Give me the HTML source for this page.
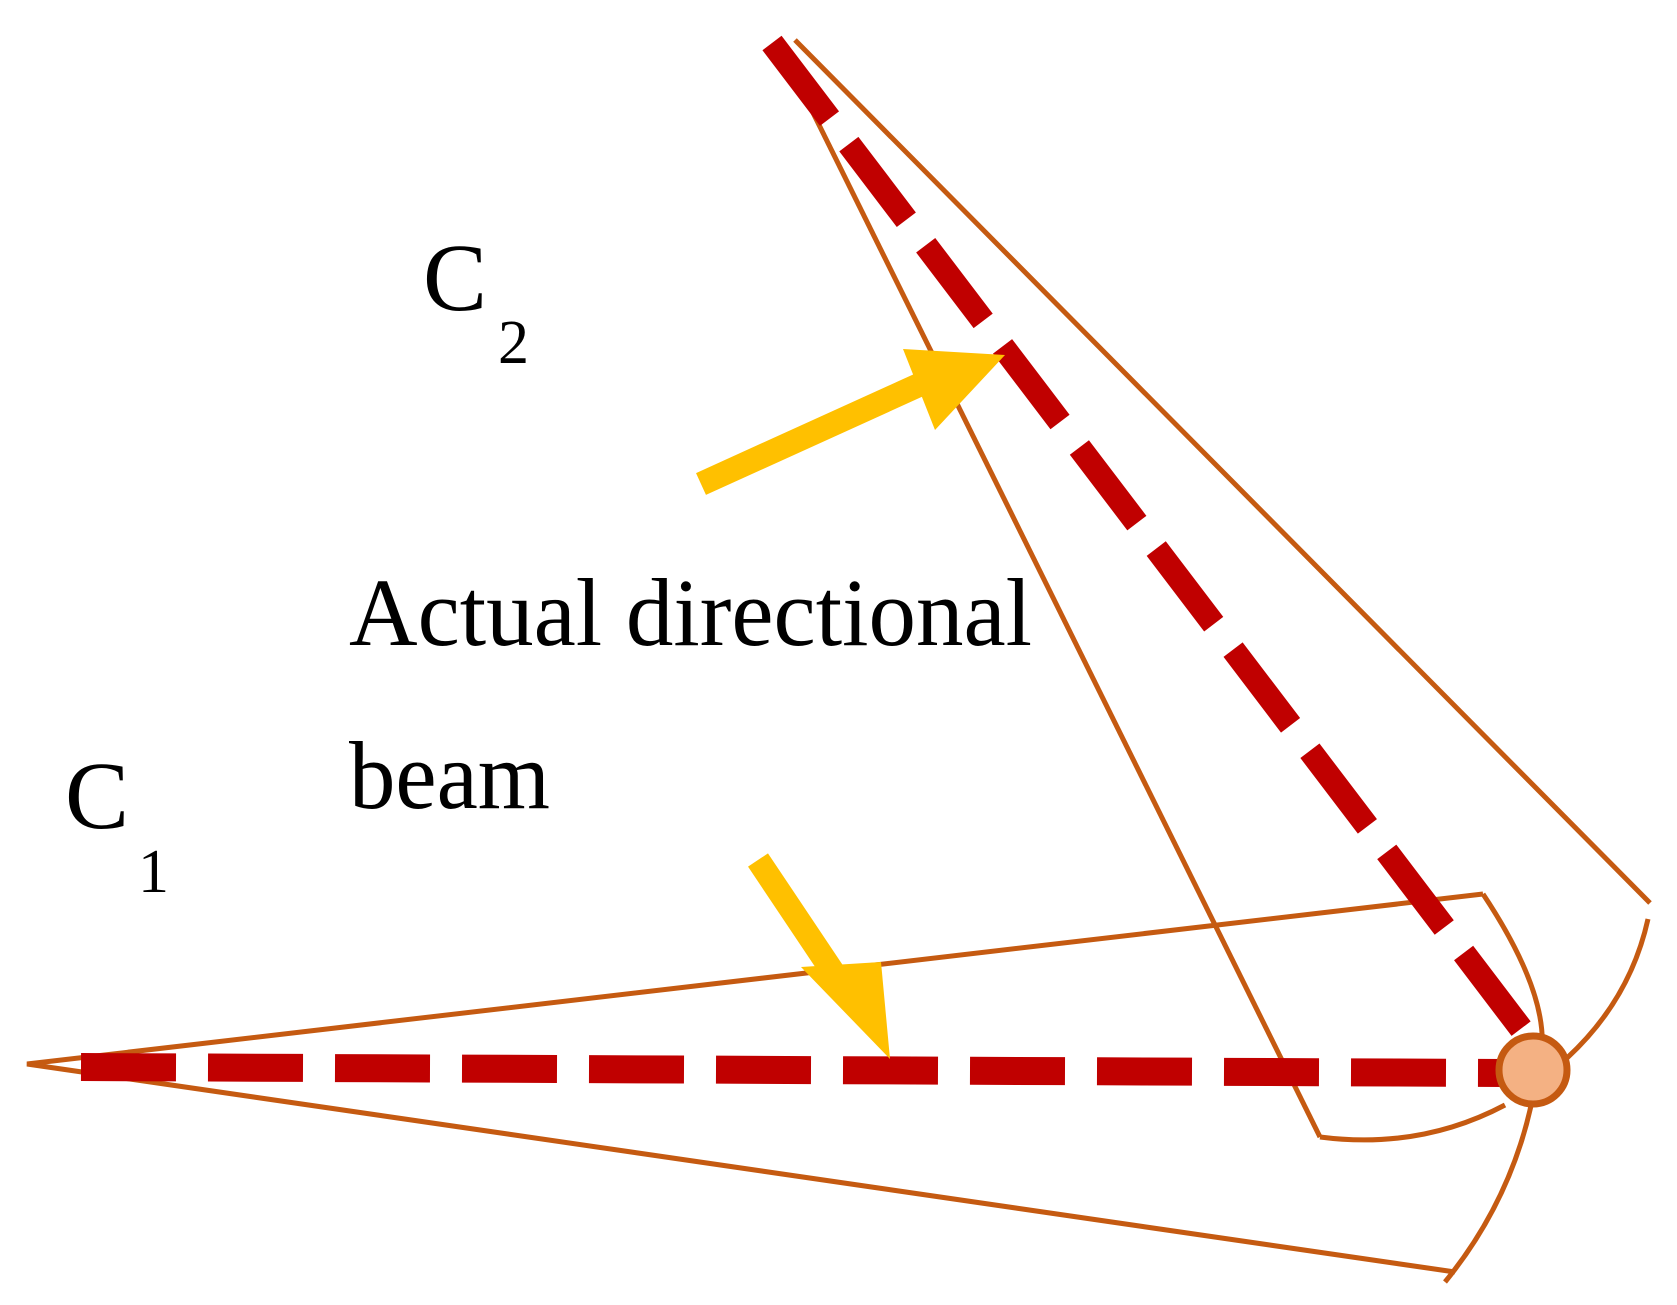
<!DOCTYPE html>
<html><head><meta charset="utf-8"><style>html,body{margin:0;padding:0;background:#fff}svg{display:block}</style></head>
<body>
<svg width="1677" height="1305" viewBox="0 0 1677 1305" xmlns="http://www.w3.org/2000/svg">
<g fill="none" stroke="#c55a11" stroke-width="5">
  <!-- C1 beam -->
  <polyline points="1483,894 27,1064 1455,1272"/>
  <path d="M1483,894 Q1560,1010 1537,1073 Q1520,1190 1445,1282"/>
  <!-- C2 beam -->
  <polyline points="795,40 1650,903"/>
  <polyline points="778,42 1320,1137"/>
  <path d="M1648,919 Q1630,1000 1567,1058"/>
  <path d="M1505,1105 Q1420,1150 1320,1137"/>
</g>
<g stroke="#c00000" stroke-width="28" fill="none">
  <line x1="81" y1="1067" x2="1505" y2="1073" stroke-dasharray="95,32"/>
  <line x1="772" y1="43" x2="1532" y2="1043" stroke-width="24" stroke-dasharray="95,32"/>
</g>
<circle cx="1533" cy="1070" r="34" fill="#f4b183" stroke="#c55a11" stroke-width="7"/>
<!-- yellow arrows -->
<g fill="#ffc000" stroke="#ffc000">
  <line x1="701" y1="484" x2="930" y2="380" stroke-width="24"/>
  <polygon points="1005,355 903,349 935,430" stroke="none"/>
  <line x1="758" y1="860" x2="845" y2="990" stroke-width="24"/>
  <polygon points="890,1059 801,967 881,962" stroke="none"/>
</g>
<g font-family="'Liberation Serif', serif" fill="#000">
  <text x="423" y="310" font-size="96">C</text>
  <text x="498" y="363" font-size="62">2</text>
  <text x="65" y="828" font-size="96">C</text>
  <text x="138" y="892" font-size="62">1</text>
  <text x="349" y="645" font-size="96" textLength="683" lengthAdjust="spacingAndGlyphs">Actual directional</text>
  <text x="349" y="808" font-size="96" textLength="201" lengthAdjust="spacingAndGlyphs">beam</text>
</g>
</svg>
</body></html>
